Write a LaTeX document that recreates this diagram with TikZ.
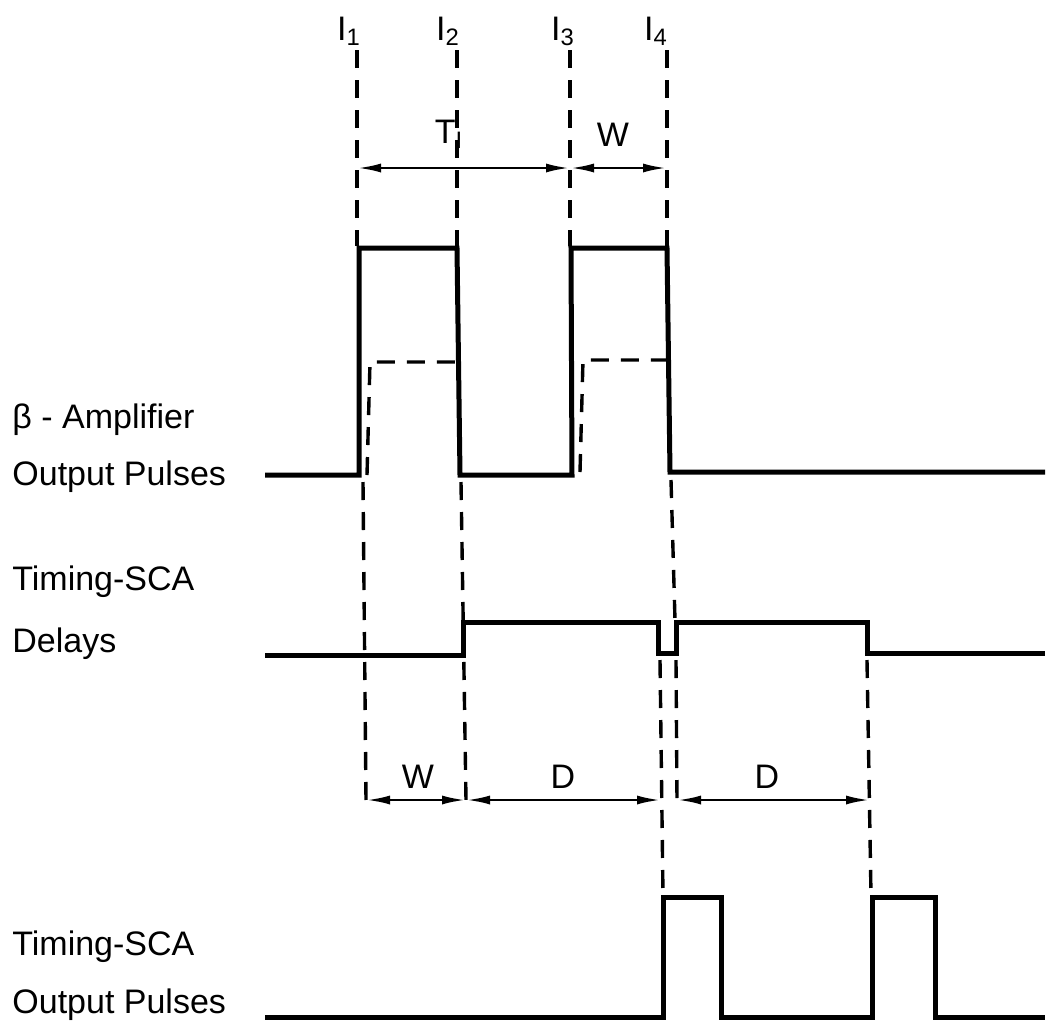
\documentclass[tikz,border=0pt]{standalone}
\usepackage{fontspec}
\setmainfont{Liberation Sans}
\usetikzlibrary{arrows.meta, positioning}
\newcommand{\lblfont}{\fontsize{17}{20}\selectfont}

\begin{document}
\begin{tikzpicture}[x=0.5pt, y=-0.5pt,
    wave/.style={line width=2.5pt, line join=miter},
    guide/.style={line width=1.7pt, dash pattern=on 9pt off 6pt},
    span/.style={{Latex[length=12pt,width=4.5pt]}-{Latex[length=12pt,width=4.5pt]}, line width=1.4pt},
    lbl/.style={font=\lblfont, anchor=base west, inner sep=0pt},
    tag/.style={font=\lblfont, anchor=base, inner sep=0pt}]
\useasboundingbox (0,0) rectangle (1057,1030);

% Signal names
\node[lbl] (ampA) at (12,428) {β - Amplifier};
\node[lbl] (ampB) at (12,485) {Output Pulses};
\node[lbl] (dlyA) at (12,590) {Timing-SCA};
\node[lbl] (dlyB) at (12,652) {Delays};
\node[lbl] (outA) at (12,955) {Timing-SCA};
\node[lbl] (outB) at (12,1013) {Output Pulses};

% Instants
\node[tag] (i1) at (349,40) {I\textsubscript{1}};
\node[tag] (i2) at (448,40) {I\textsubscript{2}};
\node[tag] (i3) at (563,40) {I\textsubscript{3}};
\node[tag] (i4) at (656,40) {I\textsubscript{4}};

% Guide lines from the instants
\draw[guide] (357,50) -- (357,246);
\draw[guide] (457,50) -- (457,246);
\draw[guide] (570,50) -- (570,246);
\draw[guide] (667,50) -- (667,246);

% Amplifier pulses
\draw[wave] (265,475) -- (359,475) -- (359,248) -- (457,248) -- (460,475)
    -- (572,475) -- (571,248) -- (667,248) -- (670,472) -- (1045,472);
\draw[guide] (367,475) -- (370,362) -- (457,362);
\draw[guide] (580,472) -- (583,360) -- (669,360);

% Delays
\draw[wave] (265,655) -- (463,655) -- (463,622) -- (658,622) -- (658,653)
    -- (676,653) -- (676,622) -- (867,622) -- (867,653) -- (1045,653);

% Output pulses
\draw[wave] (265,1017) -- (663,1017) -- (663,897) -- (721,897) -- (721,1017)
    -- (872,1017) -- (872,897) -- (935,897) -- (935,1017) -- (1045,1017);

% Guide lines down
\draw[guide] (363,482) -- (366,800);
\draw[guide] (461,482) -- (466,800);
\draw[guide] (671,480) -- (675,620);
\draw[guide] (676,660) -- (677,800);
\draw[guide] (660,660) -- (663,895);
\draw[guide] (867,660) -- (871,895);

% Spans
\coordinate (t1) at (357,168);
\coordinate (t3) at (570,168);
\coordinate (t4) at (667,168);
\draw[span] (t1) -- (t3);
\draw[span] (t3) -- (t4);
\node[tag] (ti) at (449,143) {T\textsubscript{I}};
\node[tag] (wtop) at (613,146) {W};

\coordinate (b1) at (366,800);
\coordinate (b2) at (466,800);
\coordinate (b3) at (661,800);
\coordinate (b4) at (677,800);
\coordinate (b5) at (870,800);
\draw[span] (b1) -- (b2);
\draw[span] (b2) -- (b3);
\draw[span] (b4) -- (b5);
\node[tag] (wlow) at (418,788) {W};
\node[tag] (dlowA) at (563,788) {D};
\node[tag] (dlowB) at (767,788) {D};
\end{tikzpicture}
\end{document}
